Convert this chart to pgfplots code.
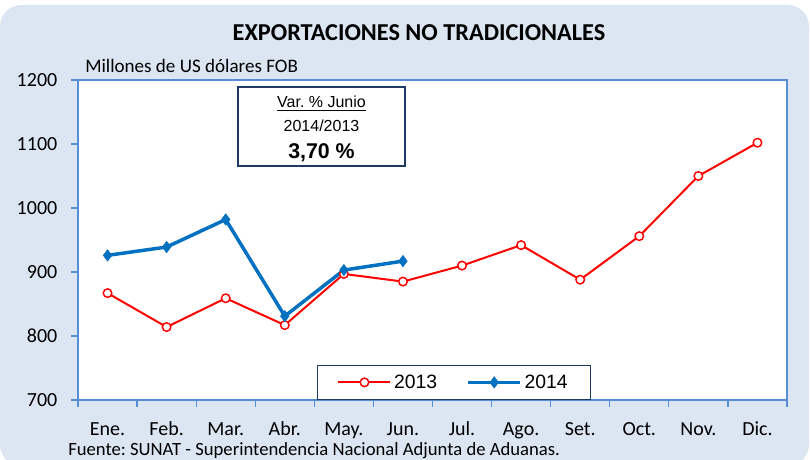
\documentclass[border=0pt]{standalone}
\usepackage{pgfplots}
\pgfplotsset{compat=1.18}
\usepackage{fontspec}
\setmainfont{Carlito}
\newfontfamily\arialf{Liberation Sans}
\definecolor{bgblue}{RGB}{220,230,242}
\definecolor{axblue}{RGB}{85,142,213}
\definecolor{navy}{RGB}{31,56,100}
\definecolor{red13}{RGB}{255,0,0}
\definecolor{blue14}{RGB}{0,112,192}
\frenchspacing
\begin{document}
\begin{tikzpicture}
\useasboundingbox (0,0) rectangle (607.5pt,345pt);
\fill[bgblue, rounded corners=16pt] (0pt,-4.5pt) rectangle (606.75pt,341.25pt);
\begin{axis}[
  at={(58.5pt,45pt)}, anchor=south west,
  scale only axis, width=531.75pt, height=240pt,
  xmin=-0.5, xmax=11.5, ymin=700, ymax=1200,
  ytick={700,800,...,1200},
  xtick={-0.5,0.5,...,11.5},
  x tick label as interval,
  xticklabels={Ene.,Feb.,Mar.,Abr.,May.,Jun.,Jul.,Ago.,Set.,Oct.,Nov.,Dic.},
  tick align=outside, xtick pos=bottom, ytick pos=left,
  major tick length=5pt,
  tick style={axblue, line width=0.9pt},
  axis line style={axblue, line width=1.2pt},
  axis background/.style={fill=white},
  ticklabel style={font=\fontsize{15}{18}\selectfont, text=black},
  xticklabel style={text height=11pt, text depth=3pt, yshift=-7pt},
  yticklabel style={xshift=-7pt},
  /pgf/number format/assume math mode=true,
  /pgf/number format/1000 sep={},
  legend style={at={(0.337,0)}, anchor=south west, draw=navy, line width=0.8pt, fill=white,
    legend columns=2, font=\arialf\fontsize{14.5}{16}\selectfont,
    inner xsep=15pt, inner ysep=5pt,
    /tikz/every even column/.append style={column sep=20pt}},
  legend image code/.code={\draw[mark repeat=2,mark phase=2] plot coordinates {(0pt,0pt)(19.5pt,0pt)(39pt,0pt)};},
]
\addplot[red13, line width=1.5pt, mark=*, mark size=3.2pt, mark options={fill=white, line width=1.1pt}]
  coordinates {(0,867)(1,814)(2,859)(3,817)(4,897)(5,885)(6,910)(7,942)(8,888)(9,956)(10,1050)(11,1102)};
\addlegendentry{2013}
\addplot[blue14, line width=2.6pt, mark=diamond*, mark size=4.2pt, mark options={fill=blue14, line width=0.5pt}]
  coordinates {(0,926)(1,939)(2,982)(3,831)(4,903)(5,917)};
\addlegendentry{2014}
\end{axis}
\begin{scope}[x=0.75pt, y=-0.75pt, yshift=345pt]
\node[font=\bfseries\fontsize{18.2}{21}\selectfont] at (419,33) {EXPORTACIONES NO TRADICIONALES};
\node[anchor=base west, font=\fontsize{14.3}{17}\selectfont, inner sep=0] at (85,73) {Millones de US dólares FOB};
\node[anchor=base west, font=\fontsize{14}{16}\selectfont, inner sep=0] at (68,456) {Fuente: SUNAT - Superintendencia Nacional Adjunta de Aduanas.};
\node[draw=navy, line width=1.5pt, fill=white, minimum width=125pt, minimum height=59pt, inner sep=0] at (321.5,126.5) {};
\node[anchor=base, font=\arialf\fontsize{12}{14}\selectfont, inner sep=0] at (321.5,108) {\underline{Var. \% Junio}};
\node[anchor=base, font=\arialf\fontsize{12}{14}\selectfont, inner sep=0] at (321.5,132) {2014/2013};
\node[anchor=base, font=\arialf\bfseries\fontsize{16}{18}\selectfont, inner sep=0] at (321.5,159) {3,70 \%};
\end{scope}
\end{tikzpicture}
\end{document}
